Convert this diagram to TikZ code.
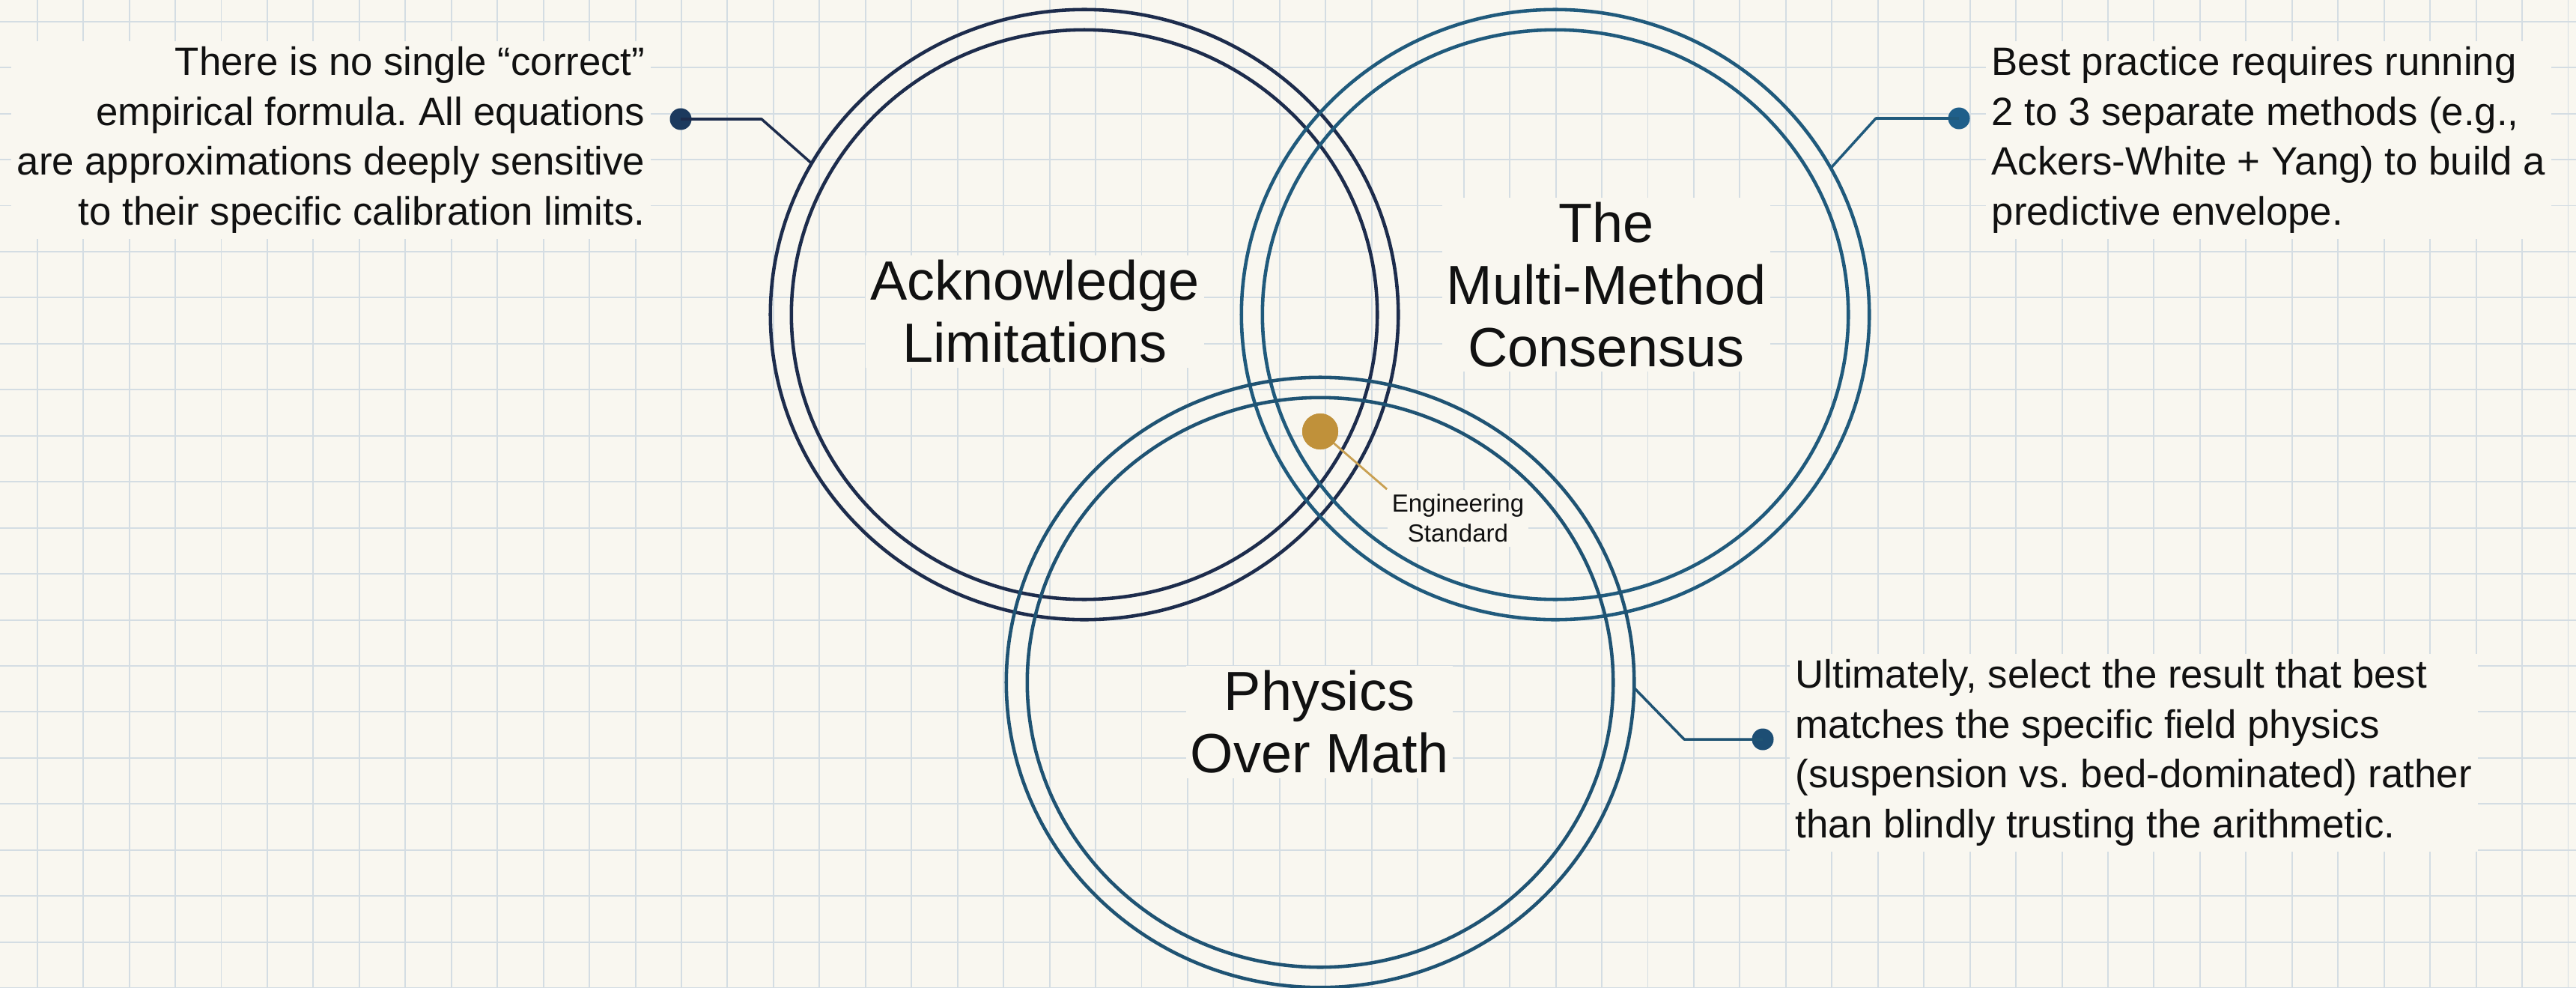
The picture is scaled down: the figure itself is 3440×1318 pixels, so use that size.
\documentclass[tikz,border=0pt]{standalone}
\usepackage{fontspec}
\setmainfont{Liberation Sans}
\usetikzlibrary{shapes.geometric}
\frenchspacing

\definecolor{paper}{HTML}{F9F7F0}
\definecolor{gridc}{HTML}{D4DDE3}
\definecolor{navy}{HTML}{1D2C4C}
\definecolor{teal}{HTML}{205A7C}
\definecolor{tealdk}{HTML}{1F5373}
\definecolor{dotnavy}{HTML}{1C3A5E}
\definecolor{dotblue}{HTML}{1F5F8A}
\definecolor{dotteal}{HTML}{1D4E74}
\definecolor{gold}{HTML}{C0913A}
\definecolor{goldln}{HTML}{C9A052}
\definecolor{ink}{HTML}{111111}

\tikzset{
  gridline/.style={draw=gridc, line width=0.55pt},
  ringout/.style={ellipse, draw, line width=1.3pt, inner sep=0pt, outer sep=0pt,
    minimum width=8.38cm, minimum height=8.14cm},
  ringin/.style={ellipse, draw, line width=1.3pt, inner sep=0pt, outer sep=0pt,
    minimum width=7.82cm, minimum height=7.60cm},
  biglabel/.style={fill=paper, text=ink, inner sep=0.06cm, align=center,
    font=\fontsize{21pt}{23.6pt}\selectfont},
  note/.style={fill=paper, text=ink, inner sep=0.08cm,
    font=\fontsize{15pt}{18.9pt}\selectfont},
  tiny/.style={fill=paper, text=ink, inner sep=0.06cm, align=center,
    font=\fontsize{9.4pt}{11.4pt}\selectfont},
  pin/.style={circle, inner sep=0pt, outer sep=0pt, minimum size=0.29cm},
  leader/.style={line width=1pt, line join=round},
}

\begin{document}
\begin{tikzpicture}[x=0.01cm, y=-0.01cm]
  % paper and squared grid
  \fill[paper] (0,0) rectangle (3440,1318);
  \useasboundingbox (0,0) rectangle (3440,1318);
  \foreach \i in {0,...,55} \draw[gridline] ({49.7+61.45*\i},0) -- ({49.7+61.45*\i},1318);
  \foreach \j in {0,...,21} \draw[gridline] (0,{28.7+61.45*\j}) -- (3440,{28.7+61.45*\j});

  % side notes
  \node[note, align=right, anchor=north east] (noteL) at (870,54)
    {There is no single “correct”\\empirical formula. All equations\\are approximations deeply sensitive\\to their specific calibration limits.};
  \node[note, align=left, anchor=north west] (noteR) at (2651,54)
    {Best practice requires running\\2 to 3 separate methods (e.g.,\\Ackers-White + Yang) to build a\\predictive envelope.};
  \node[note, align=left, anchor=north west] (noteB) at (2389,872)
    {Ultimately, select the result that best\\matches the specific field physics\\(suspension vs. bed-dominated) rather\\than blindly trusting the arithmetic.};

  % the three double rings
  \node[ringout, draw=navy] (L) at (1448,420) {};
  \node[ringin,  draw=navy] (Li) at (1448,420) {};
  \node[ringout, draw=teal] (R) at (2077,420) {};
  \node[ringin,  draw=teal] (Ri) at (2077,420) {};
  \node[ringout, draw=tealdk] (B) at (1763,911) {};
  \node[ringin,  draw=tealdk] (Bi) at (1763,911) {};

  % ring titles
  \node[biglabel] (tL) at (1382,416) {Acknowledge\\Limitations};
  \node[biglabel] (tR) at (2145,380) {The\\Multi-Method\\Consensus};
  \node[biglabel] (tB) at (1762,964) {Physics\\Over Math};

  % leaders from rings to notes
  \node[pin, fill=dotnavy] (pL) at (909,159) {};
  \coordinate (kL) at (1017,159);
  \draw[leader, draw=navy] (L.151.5) -- (kL) -- (pL.center);

  \node[pin, fill=dotblue] (pR) at (2616,158) {};
  \coordinate (kR) at (2505,158);
  \draw[leader, draw=teal] (R.28.5) -- (kR) -- (pR.center);

  \node[pin, fill=dotteal] (pB) at (2354,987) {};
  \coordinate (kB) at (2249,987);
  \draw[leader, draw=tealdk] (B.-1.5) -- (kB) -- (pB.center);

  % centre of agreement
  \node[tiny] (eng) at (1947,692) {Engineering\\Standard};
  \node[circle, fill=gold, inner sep=0pt, minimum size=0.48cm] (gd) at (1763,576) {};
  \draw[line width=0.8pt, draw=goldln] (gd.center) -- (eng.north west);
  \node[circle, fill=gold, inner sep=0pt, minimum size=0.48cm] at (gd) {};
\end{tikzpicture}
\end{document}
